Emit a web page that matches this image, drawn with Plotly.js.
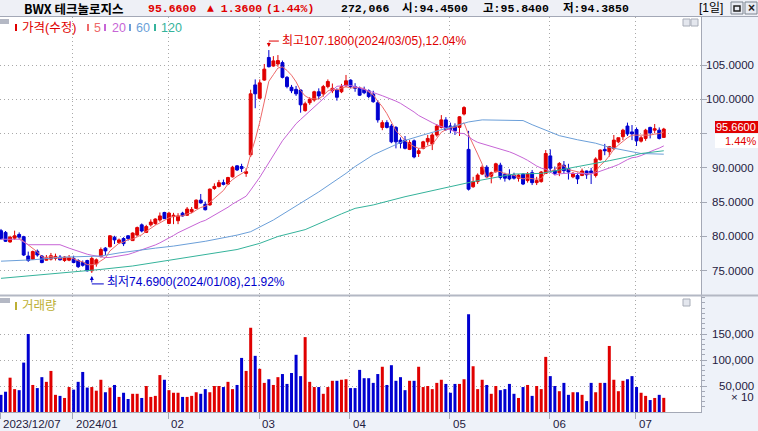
<!DOCTYPE html>
<html><head><meta charset="utf-8">
<script src="https://cdn.plot.ly/plotly-3.0.1.min.js"></script>
<style>html,body{margin:0;padding:0;background:#eef2f9;overflow:hidden}#chart{width:758px;height:431px}</style>
</head><body><div id="chart"></div>
<script>
// ---------------- DATA ----------------
const stockName = 'BWX 테크놀로지스';
const dates = [
'2023-12-07','2023-12-08','2023-12-11','2023-12-12','2023-12-13','2023-12-14','2023-12-15','2023-12-18','2023-12-19','2023-12-20','2023-12-21','2023-12-22','2023-12-26','2023-12-27','2023-12-28','2023-12-29',
'2024-01-02','2024-01-03','2024-01-04','2024-01-05','2024-01-08','2024-01-09','2024-01-10','2024-01-11','2024-01-12','2024-01-16','2024-01-17','2024-01-18','2024-01-19','2024-01-22','2024-01-23','2024-01-24','2024-01-25','2024-01-26','2024-01-29','2024-01-30','2024-01-31',
'2024-02-01','2024-02-02','2024-02-05','2024-02-06','2024-02-07','2024-02-08','2024-02-09','2024-02-12','2024-02-13','2024-02-14','2024-02-15','2024-02-16','2024-02-20','2024-02-21','2024-02-22','2024-02-23','2024-02-26','2024-02-27','2024-02-28','2024-02-29',
'2024-03-01','2024-03-04','2024-03-05','2024-03-06','2024-03-07','2024-03-08','2024-03-11','2024-03-12','2024-03-13','2024-03-14','2024-03-15','2024-03-18','2024-03-19','2024-03-20','2024-03-21','2024-03-22','2024-03-25','2024-03-26','2024-03-27','2024-03-28',
'2024-04-01','2024-04-02','2024-04-03','2024-04-04','2024-04-05','2024-04-08','2024-04-09','2024-04-10','2024-04-11','2024-04-12','2024-04-15','2024-04-16','2024-04-17','2024-04-18','2024-04-19','2024-04-22','2024-04-23','2024-04-24','2024-04-25','2024-04-26','2024-04-29','2024-04-30',
'2024-05-01','2024-05-02','2024-05-03','2024-05-06','2024-05-07','2024-05-08','2024-05-09','2024-05-10','2024-05-13','2024-05-14','2024-05-15','2024-05-16','2024-05-17','2024-05-20','2024-05-21','2024-05-22','2024-05-23','2024-05-24','2024-05-28','2024-05-29','2024-05-30','2024-05-31',
'2024-06-03','2024-06-04','2024-06-05','2024-06-06','2024-06-07','2024-06-10','2024-06-11','2024-06-12','2024-06-13','2024-06-14','2024-06-17','2024-06-18','2024-06-20','2024-06-21','2024-06-24','2024-06-25','2024-06-26','2024-06-27','2024-06-28',
'2024-07-01','2024-07-02','2024-07-03','2024-07-05','2024-07-08','2024-07-09','2024-07-10'];

const open = [
80.85,80.6,79.2,79.75,80.3,79.98,77.15,76.7,77.85,77.15,76.55,76.7,76.8,77.0,76.5,76.55,
76.8,76.5,76.2,76.5,75.0,76.0,77.06,78.3,78.5,79.9,79.1,79.7,80.1,79.4,80.2,81.7,80.6,81.7,81.9,82.4,83.5,
81.9,82.9,82.3,83.4,83.1,83.6,84.1,85.3,84.7,84.6,87.0,87.3,87.85,87.65,88.7,90.3,90.2,89.2,91.9,102.1,
100.15,102.8,106.1,104.85,105.15,105.35,103.2,101.75,101.45,101.35,98.35,99.5,99.9,101.1,100.8,101.85,101.25,101.35,101.1,101.95,
102.8,101.85,101.6,101.45,101.25,100.75,99.5,95.9,96.6,96.1,95.9,94.05,94.05,92.7,93.95,92.1,92.85,93.8,93.5,94.8,95.9,97.0,
96.1,96.1,95.9,97.85,92.7,87.25,88.0,89.1,90.1,88.8,89.45,90.4,89.05,89.05,88.95,88.5,89.1,88.15,89.3,87.85,88.0,89.2,
91.75,89.6,89.3,90.4,89.9,88.7,88.9,88.9,89.55,89.55,88.9,91.2,92.7,92.35,92.8,93.8,94.55,96.1,95.25,
95.6,93.9,94.3,95.9,95.5,95.5,94.45];
const high = [
81.1,80.8,80.1,80.85,80.6,80.1,77.8,77.95,78.1,77.3,77.3,77.6,77.5,77.3,77.15,77.3,
77.2,76.7,76.5,76.6,77.1,76.8,78.4,78.45,80.2,80.1,79.7,79.9,80.2,80.6,81.45,81.9,81.7,82.5,82.65,83.5,83.6,
83.6,83.45,83.4,83.6,84.3,84.3,85.4,86.2,85.1,87.0,87.75,88.25,88.3,88.7,90.3,90.4,90.6,89.95,101.4,102.9,
102.9,105.15,107.18,106.3,106.45,105.65,103.4,102.1,101.95,101.45,99.65,100.3,101.25,101.6,102.1,102.9,102.3,101.6,102.25,103.55,
102.9,102.35,101.85,101.85,101.45,101.25,99.9,96.95,96.95,96.4,96.1,94.45,94.65,94.05,94.15,92.85,93.95,94.8,95.05,96.4,97.7,97.4,
96.6,96.5,97.55,99.0,95.4,88.7,89.2,90.4,90.4,89.45,90.75,90.75,89.3,89.8,89.3,89.1,89.2,89.4,89.7,88.7,89.55,92.6,
92.7,90.2,90.85,91.0,90.6,89.4,89.3,89.9,89.6,90.0,91.55,92.7,93.5,93.2,94.8,94.4,95.7,96.6,96.25,
95.9,94.65,95.7,96.0,96.4,95.9,95.84];
const low = [
79.5,79.2,79.1,79.5,79.6,77.15,76.3,76.6,77.05,76.1,76.5,76.5,76.5,76.5,76.3,76.4,
76.1,75.4,75.6,74.9,74.69,75.6,76.95,77.3,78.4,78.9,78.9,78.6,79.4,79.35,80.1,80.6,80.5,81.45,81.7,82.15,82.55,
81.8,81.8,81.8,82.9,83.0,83.4,84.0,84.8,83.8,84.5,86.8,87.15,87.45,87.5,88.6,89.55,89.4,88.7,91.6,98.7,
100.0,102.7,104.65,104.75,104.75,103.05,101.6,100.9,100.5,98.05,98.2,99.2,99.65,100.0,100.4,101.6,100.9,99.8,100.9,101.85,
101.6,101.1,100.5,100.75,100.15,99.5,96.6,95.5,95.75,93.6,92.85,92.85,92.7,92.6,91.4,91.6,92.7,93.3,92.6,94.55,95.75,95.4,
95.05,94.8,94.65,97.65,86.7,87.1,87.65,88.95,88.6,87.75,89.3,88.3,88.0,88.2,88.3,88.0,87.5,87.85,87.5,87.5,87.85,89.1,
89.3,88.95,88.8,89.2,88.3,88.5,87.65,88.8,88.4,87.65,88.6,91.05,91.85,91.65,92.6,93.6,94.05,94.65,94.05,
93.2,93.7,93.95,94.3,95.05,94.15,94.385];
const close = [
79.7,79.3,79.9,80.1,79.9,77.3,76.5,77.8,77.3,76.2,76.9,77.2,77.1,76.6,77.0,76.9,
76.2,75.6,75.8,75.0,76.8,76.6,78.1,77.9,80.1,79.5,79.5,78.95,79.7,80.5,81.3,80.8,81.45,82.1,82.55,83.0,82.6,
83.4,83.1,83.0,83.0,84.0,83.95,85.3,84.9,83.9,86.9,87.3,87.85,87.6,88.6,90.1,89.7,89.9,89.45,100.8,100.8,
102.4,104.4,104.75,105.6,105.65,103.2,101.85,101.25,100.8,99.2,99.35,100.0,101.1,100.5,101.85,102.6,101.6,100.3,101.85,102.7,
101.85,101.6,100.6,100.95,100.4,99.65,97.0,96.6,95.9,93.8,93.8,93.6,92.85,93.7,91.6,92.5,93.8,94.3,94.8,96.1,97.0,95.6,
95.6,95.4,97.45,98.8,86.9,88.0,88.95,90.1,88.7,89.3,90.6,88.6,88.5,88.4,88.5,88.95,87.65,89.1,87.85,88.15,89.4,92.1,
89.95,89.2,90.65,89.6,89.4,89.2,88.4,89.55,89.0,89.3,91.3,92.6,92.5,93.1,94.05,94.4,95.5,94.95,94.95,
93.95,94.4,95.5,95.1,95.7,94.3,95.66];
// volume in shares (axis shows units of 10 shares)
const volumeShares = [
330000,390000,660000,440000,420000,950000,1500000,520000,460000,670000,580000,790000,330000,310000,270000,480000,
430000,580000,770000,470000,480000,410000,620000,380000,470000,520000,290000,370000,250000,350000,350000,270000,500000,290000,310000,710000,620000,
420000,370000,370000,290000,290000,310000,380000,350000,440000,380000,500000,500000,480000,580000,440000,520000,1040000,790000,1620000,1080000,
830000,560000,630000,520000,670000,730000,540000,750000,1100000,690000,1440000,580000,480000,480000,350000,480000,600000,600000,620000,630000,
460000,460000,810000,650000,650000,560000,730000,870000,520000,900000,600000,670000,420000,600000,600000,870000,480000,500000,440000,560000,620000,540000,
370000,540000,540000,630000,1880000,880000,440000,620000,520000,350000,500000,420000,440000,540000,350000,270000,480000,520000,310000,500000,440000,1060000,
690000,500000,400000,560000,330000,380000,380000,330000,210000,560000,380000,560000,560000,1270000,620000,400000,600000,630000,690000,
480000,370000,310000,230000,270000,330000,272066];
const volumeUnit = 10;

const ma20Lead = [[0,79.6],[4,79.6],[6,78.8],[13,78.8],[15,78.3],[18,77.6]];
const ma60Read = [[0,76.4],[7,76.6],[14,77.0],[22,77.15],[26,77.6],[30,78.0],[34,78.3],[38,78.6],[45,79.3],[52,80.2],[55,80.7],[60,82.4],[65,84.5],[70,86.5],[76,89.2],[78,90.2],[82,91.9],[86,93.1],[89,94.0],[93,94.8],[97,95.6],[100,96.2],[103,96.7],[106,97.0],[113,97.0],[115,96.9],[117,96.3],[120,95.5],[123,94.7],[127,94.1],[131,93.6],[134,93.0],[138,92.5],[141,92.1],[146,92.0]];
const ma120Read = [[0,73.9],[7,74.3],[15,74.7],[22,75.2],[29,75.7],[38,76.6],[45,77.3],[52,78.1],[57,79.0],[61,80.0],[67,81.0],[70,81.9],[75,83.3],[78,84.1],[82,84.6],[89,85.8],[97,87.0],[101,87.65],[104,88.0],[108,88.5],[113,89.1],[119,89.2],[123,89.7],[127,90.1],[131,90.65],[134,91.05],[138,91.6],[141,92.1],[146,92.5]];

const priceTicks = [75,80,85,90,95,100,105];
const volTicks = [50000,100000,150000];
const monthStarts = ['2023-12-07','2024-01-02','2024-02-01','2024-03-01','2024-04-01','2024-05-01','2024-06-03','2024-07-01'];
const monthLabels = ['2023/12/07','2024/01','02','03','04','05','06','07'];
const legendItems = [['가격(수정)','#e00000'],['5','#ee6a6a'],['20','#c765d6'],['60','#6b9fd9'],['120','#35b39b']];

// ---------------- STYLE / GEOMETRY ----------------
const RED='#e00000', BLUE='#0000d0';
const plotR=701, plotT=17, plotB=412;
const PX = px => px/plotR;
const PY = py => (plotB-py)/(plotB-plotT);
const idx = dates.map((d,i)=>i);
const N = dates.length, last = N-1;
const numFont = 'Liberation Sans, Noto Sans CJK KR, sans-serif';
const fmt4 = v => v.toFixed(4);

function sma(arr,n){return arr.map((v,i)=> i<n-1?null: arr.slice(i-n+1,i+1).reduce((a,b)=>a+b,0)/n);}
const ma5 = sma(close,5);
const ma20c = sma(close,20);
const ma20x = ma20Lead.map(p=>p[0]).concat(idx.slice(19));
const ma20y = ma20Lead.map(p=>p[1]).concat(ma20c.slice(19));
const volY = volumeShares.map(v=>v/volumeUnit);
const upDown = close.map((c,i)=> c>=open[i]?RED:BLUE);

const traces = [
 {type:'candlestick', x:idx, open:open, high:high, low:low, close:close, xaxis:'x', yaxis:'y',
  increasing:{line:{color:RED,width:1},fillcolor:RED}, decreasing:{line:{color:BLUE,width:1},fillcolor:BLUE},
  whiskerwidth:0, hoverinfo:'skip', showlegend:false},
 {type:'scatter', mode:'lines', x:idx, y:ma5, line:{color:'#ee6a6a',width:1}, hoverinfo:'skip', showlegend:false},
 {type:'scatter', mode:'lines', x:ma20x, y:ma20y, line:{color:'#c765d6',width:1}, hoverinfo:'skip', showlegend:false},
 {type:'scatter', mode:'lines', x:ma60Read.map(p=>p[0]), y:ma60Read.map(p=>p[1]), line:{color:'#6b9fd9',width:1}, hoverinfo:'skip', showlegend:false},
 {type:'scatter', mode:'lines', x:ma120Read.map(p=>p[0]), y:ma120Read.map(p=>p[1]), line:{color:'#35b39b',width:1}, hoverinfo:'skip', showlegend:false},
 {type:'bar', x:idx, y:volY, xaxis:'x', yaxis:'y2', marker:{color:upDown,line:{width:0}}, width:0.66, hoverinfo:'skip', showlegend:false}
];

const gridC='#a9a9a9', axC='#a4a9b6';
const monthIdx = monthStarts.map(d=>dates.indexOf(d)-0.15);
const minorVals=[]; for(let v=10000; v<=220000; v+=10000) minorVals.push(v);

const shapes=[], ann=[];
// header band
shapes.push({type:'rect',xref:'paper',yref:'paper',x0:PX(0),x1:PX(758),y0:PY(16),y1:PY(0),fillcolor:'#eef0f6',line:{width:0}});
shapes.push({type:'line',xref:'paper',yref:'paper',x0:PX(0),x1:PX(758),y0:PY(16.5),y1:PY(16.5),line:{color:'#a3a8b6',width:1}});
// pane separator
shapes.push({type:'line',xref:'paper',yref:'paper',x0:PX(0),x1:PX(758),y0:PY(295.5),y1:PY(295.5),line:{color:'#b3b8c4',width:2}});
// legend tabs
shapes.push({type:'rect',xref:'paper',yref:'paper',x0:PX(0),x1:PX(9),y0:PY(24),y1:PY(19),fillcolor:'#b4b8c4',line:{width:0}});
shapes.push({type:'rect',xref:'paper',yref:'paper',x0:PX(0),x1:PX(10),y0:PY(303),y1:PY(298),fillcolor:'#b4b8c4',line:{width:0}});
// pane icons
[[683,19],[691,19],[683,299]].forEach(([x,y])=>{
  shapes.push({type:'rect',xref:'paper',yref:'paper',x0:PX(x),x1:PX(x+7),y0:PY(y+7),y1:PY(y),fillcolor:'#e4e7ee',line:{color:'#a8adb8',width:1}});
});
// header buttons
[[731],[745]].forEach(([x])=>{
  shapes.push({type:'rect',xref:'paper',yref:'paper',x0:PX(x),x1:PX(x+12),y0:PY(14),y1:PY(2),fillcolor:'#e9ecf3',line:{color:'#7d8590',width:1}});
});
shapes.push({type:'rect',xref:'paper',yref:'paper',x0:PX(734),x1:PX(740),y0:PY(11),y1:PY(6),fillcolor:'rgba(0,0,0,0)',line:{color:'#222',width:1.5}});
ann.push({xref:'paper',yref:'paper',x:PX(751),y:PY(8),text:'<b>×</b>',showarrow:false,font:{family:numFont,size:12,color:'#222'},xanchor:'center',yanchor:'middle'});

// header texts
const chg = close[last]-close[last-1];
const chgPct = chg/close[last-1]*100;
const hdr = [
 [22, '<b>'+stockName+'</b>', '#000', 'Noto Sans CJK KR, sans-serif', 12.5],
 [146,'<b>'+fmt4(close[last])+'</b>', RED, 'Liberation Mono, Noto Sans CJK KR', 11.5],
 [205,'<b>▲ '+fmt4(chg)+'</b>', RED, 'Liberation Mono, Noto Sans CJK KR', 11.5],
 [264,'<b>('+chgPct.toFixed(2)+'%)</b>', RED, 'Liberation Mono, Noto Sans CJK KR', 11.5],
 [339,'<b>'+volumeShares[last].toLocaleString('en-US')+'</b>', '#000', 'Liberation Mono, Noto Sans CJK KR', 11.5],
 [400,'<b>시:'+fmt4(open[last])+'</b>', '#000', 'Liberation Mono, Noto Sans CJK KR', 11.5],
 [481,'<b>고:'+fmt4(high[last])+'</b>', '#000', 'Liberation Mono, Noto Sans CJK KR', 11.5],
 [561,'<b>저:'+fmt4(low[last])+'</b>', '#000', 'Liberation Mono, Noto Sans CJK KR', 11.5],
 [697,'[1일]', '#000', 'Liberation Sans, Noto Sans CJK KR', 12]
];
hdr.forEach(([x,t,c,f,s])=>ann.push({xref:'paper',yref:'paper',x:PX(x),y:PY(8),text:t,showarrow:false,xanchor:'left',yanchor:'middle',font:{family:f,size:s,color:c}}));

// legend
const legX = [[15,20],[87,92],[104,110],[129,134],[154,159]];
legendItems.forEach(([t,c],k)=>{
  const [mx,tx]=legX[k];
  shapes.push({type:'rect',xref:'paper',yref:'paper',x0:PX(mx),x1:PX(mx+2),y0:PY(31),y1:PY(24),fillcolor:c,line:{width:0}});
  ann.push({xref:'paper',yref:'paper',x:PX(tx),y:PY(27.5),text:t,showarrow:false,xanchor:'left',yanchor:'middle',font:{family:numFont,size:12.5,color:c}});
});
shapes.push({type:'rect',xref:'paper',yref:'paper',x0:PX(15),x1:PX(17),y0:PY(310),y1:PY(302),fillcolor:'#bdb034',line:{width:0}});
ann.push({xref:'paper',yref:'paper',x:PX(20),y:PY(306),text:'거래량',showarrow:false,xanchor:'left',yanchor:'middle',font:{family:numFont,size:12.5,color:'#bdb034'}});

// y tick labels (right aligned); the label hidden under the current-price tag is not drawn, as in the reference
priceTicks.filter(v=>Math.abs(v-close[last])>2.2).forEach(v=>ann.push({xref:'paper',yref:'y',x:PX(756),y:v,text:fmt4(v),showarrow:false,xanchor:'right',yanchor:'middle',font:{family:numFont,size:11.5,color:'#1e2040'}}));
volTicks.forEach(v=>ann.push({xref:'paper',yref:'y2',x:PX(756),y:v,text:v.toLocaleString('en-US'),showarrow:false,xanchor:'right',yanchor:'middle',font:{family:numFont,size:11.5,color:'#1e2040'}}));
ann.push({xref:'paper',yref:'paper',x:PX(756),y:PY(397),text:'× '+volumeUnit,showarrow:false,xanchor:'right',yanchor:'middle',font:{family:numFont,size:11.5,color:'#1e2040'}});
// x labels
monthIdx.forEach((v,k)=>ann.push({xref:'x',yref:'paper',x:v,y:PY(424),text:monthLabels[k],showarrow:false,xanchor:'left',yanchor:'middle',xshift:1,font:{family:numFont,size:11.5,color:'#1e2040'}}));

// current price tag (backgrounds as shapes, texts spaced 14px apart)
shapes.push({type:'rect',xref:'paper',yref:'y',ysizemode:'pixel',yanchor:close[last],x0:PX(715),x1:PX(758),y0:-4,y1:8,fillcolor:RED,line:{width:0}});
shapes.push({type:'rect',xref:'paper',yref:'y',ysizemode:'pixel',yanchor:close[last],x0:PX(715),x1:PX(758),y0:-19,y1:-5,fillcolor:'#ffffff',line:{width:0}});
ann.push({xref:'paper',yref:'y',x:PX(757),y:close[last],yshift:2,text:fmt4(close[last]),showarrow:false,xanchor:'right',yanchor:'middle',borderpad:0,font:{family:numFont,size:11,color:'#fff'}});
ann.push({xref:'paper',yref:'y',x:PX(757),y:close[last],yshift:-12,text:chgPct.toFixed(2)+'%',showarrow:false,xanchor:'right',yanchor:'middle',borderpad:0,font:{family:numFont,size:11,color:RED}});

// high / low markers
const maxH = Math.max(...high), iH = high.indexOf(maxH);
const minL = Math.min(...low), iL = low.indexOf(minL);
const dfmt = d => d.replace(/-/g,'/');
const pH = (maxH-close[last])/close[last]*100, pL = (close[last]-minL)/close[last]*100;
ann.push({xref:'x',yref:'y',x:iH,y:maxH,ax:0,ay:-9,axref:'pixel',ayref:'pixel',text:'',showarrow:true,arrowhead:2,arrowsize:0.8,arrowwidth:1,arrowcolor:RED,standoff:3});
shapes.push({type:'line',xref:'x',yref:'y',xsizemode:'pixel',ysizemode:'pixel',xanchor:iH,yanchor:maxH,x0:0,x1:10,y0:9,y1:9,line:{color:RED,width:1}});
ann.push({xref:'x',yref:'y',x:iH,y:maxH,xshift:11,yshift:9,text:'최고'+fmt4(maxH)+'('+dfmt(dates[iH])+'),'+pH.toFixed(2)+'%',showarrow:false,xanchor:'left',yanchor:'middle',font:{family:numFont,size:12,color:RED}});
ann.push({xref:'x',yref:'y',x:iL,y:minL,ax:0,ay:11,axref:'pixel',ayref:'pixel',text:'',showarrow:true,arrowhead:2,arrowsize:0.8,arrowwidth:1,arrowcolor:'#0000cc',standoff:3});
shapes.push({type:'line',xref:'x',yref:'y',xsizemode:'pixel',ysizemode:'pixel',xanchor:iL,yanchor:minL,x0:0,x1:12,y0:-11,y1:-11,line:{color:'#0000cc',width:1}});
ann.push({xref:'x',yref:'y',x:iL,y:minL,xshift:13,yshift:-9,text:'최저'+fmt4(minL)+'('+dfmt(dates[iL])+'),'+pL.toFixed(2)+'%',showarrow:false,xanchor:'left',yanchor:'middle',font:{family:numFont,size:12,color:'#0000cc'}});

const layout = {
 width:758, height:431, margin:{l:0,r:758-plotR,t:plotT,b:431-plotB,pad:0},
 paper_bgcolor:'#eef2f9', plot_bgcolor:'#ffffff', showlegend:false,
 boxgap:0.2, boxgroupgap:0.2, bargap:0.3,
 font:{family:numFont,size:11,color:'#1e2040'},
 xaxis:{type:'linear', range:[-0.22,154.2], anchor:'y2', rangeslider:{visible:false},
   tickmode:'array', tickvals:monthIdx, showticklabels:false, ticks:'outside', ticklen:6, tickcolor:axC,
   showgrid:true, gridcolor:gridC, griddash:'1px,3px', gridwidth:1, showline:true, linecolor:axC, zeroline:false, fixedrange:true},
 yaxis:{domain:[PY(295),1], range:[71.47,112.0], side:'right', anchor:'x', tickmode:'array', tickvals:priceTicks,
   showticklabels:false, ticks:'outside', ticklen:5, tickcolor:axC, showgrid:true, gridcolor:gridC, griddash:'1px,3px',
   showline:true, linecolor:axC, zeroline:false, fixedrange:true},
 yaxis2:{domain:[0,PY(296)], range:[0,223077], side:'right', anchor:'x', tickmode:'array', tickvals:volTicks,
   showticklabels:false, ticks:'outside', ticklen:5, tickcolor:axC, showgrid:true, gridcolor:gridC, griddash:'1px,3px',
   minor:{tickmode:'array', tickvals:minorVals, ticks:'outside', ticklen:3, tickcolor:axC, showgrid:false},
   showline:true, linecolor:axC, zeroline:false, fixedrange:true},
 shapes:shapes, annotations:ann
};
Plotly.newPlot('chart', traces, layout, {staticPlot:true, displayModeBar:false});
</script></body></html>
